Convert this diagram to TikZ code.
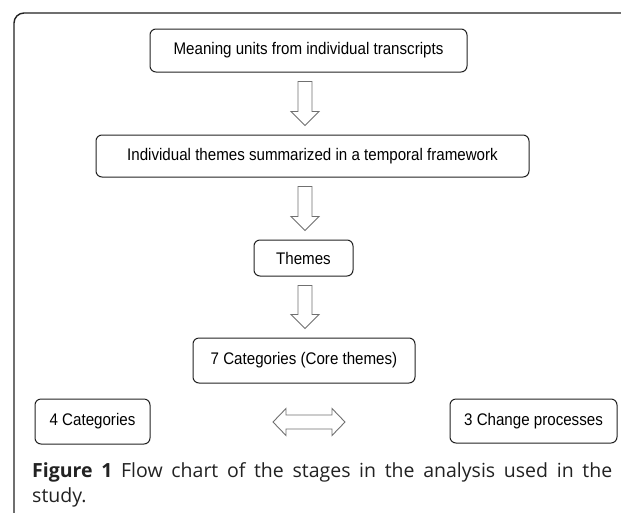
\documentclass[tikz,border=0pt]{standalone}
\usepackage{fontspec}
\setmainfont{Liberation Sans}
\newfontfamily\boxfont[FakeStretch=0.9]{Liberation Sans}
\newfontfamily\capfont{Open Sans}
\usetikzlibrary{calc}
\definecolor{framecol}{HTML}{222222}
\definecolor{arrowcol}{HTML}{707070}
\definecolor{captext}{HTML}{222222}
\tikzset{
  stagebox/.style={draw=framecol, line width=1pt, rounded corners=6pt, fill=white,
    inner sep=0pt, font=\boxfont\fontsize{16.8}{18}\selectfont, text=black, align=center},
  blockar/.style={draw=arrowcol, line width=0.9pt, fill=white, line join=miter},
}
\newcommand\blockdown[2]{%
  \draw[blockar] let \p1=($(#1.south -| ax)+(0,9)$), \p2=($(#2.north -| ax)+(0,-9)$) in
    (\x2-7pt,\y1) -- (\x2-7pt,\y2+14pt) -- (\x2-14pt,\y2+14pt) -- (\x2,\y2)
    -- (\x2+14pt,\y2+14pt) -- (\x2+7pt,\y2+14pt) -- (\x2+7pt,\y1) -- cycle;}
\begin{document}
\begin{tikzpicture}[x=1pt,y=-1pt]
\useasboundingbox (0,0) rectangle (621,512);
\clip (0,0) rectangle (621,512);
\fill[white] (0,0) rectangle (621,512);
\draw[framecol, line width=1.4pt, rounded corners=10pt] (14,13) rectangle (660,560);
\coordinate (ax) at (305,0);
\node[stagebox, minimum width=317pt, minimum height=43pt] (b1) at (308.5,50.5) {Meaning units from individual transcripts};
\node[stagebox, minimum width=433pt, minimum height=42pt] (b2) at (312.5,156) {Individual themes summarized in a temporal framework};
\node[stagebox, minimum width=99pt, minimum height=36pt] (b3) at (303.5,258) {Themes};
\node[stagebox, minimum width=222pt, minimum height=45pt] (b4) at (304,360.5) {7 Categories (Core themes)};
\node[stagebox, minimum width=115pt, minimum height=45pt] (cl) at (92.5,421.5) {4 Categories};
\node[stagebox, minimum width=167pt, minimum height=44pt] (cr) at (533.5,421) {3 Change processes};
\blockdown{b1}{b2}
\blockdown{b2}{b3}
\blockdown{b3}{b4}
\coordinate (dl) at (273,422);
\coordinate (dr) at (345,422);
\draw[blockar] let \p1=(dl), \p2=(dr) in
  (\x1,\y1) -- (\x1+13pt,\y1+13.5pt) -- (\x1+13pt,\y1+7pt) -- (\x2-13pt,\y2+7pt)
  -- (\x2-13pt,\y2+13.5pt) -- (\x2,\y2) -- (\x2-13pt,\y2-13.5pt) -- (\x2-13pt,\y2-7pt)
  -- (\x1+13pt,\y1-7pt) -- (\x1+13pt,\y1-13.5pt) -- cycle;
\node[anchor=north west, inner sep=0pt, text width=580pt, align=justify,
  font=\capfont\fontsize{19.5}{25}\selectfont, text=captext] (cap) at (32,462)
  {\textbf{Figure 1} Flow chart of the stages in the analysis used in the\linebreak study.};
\end{tikzpicture}
\end{document}
